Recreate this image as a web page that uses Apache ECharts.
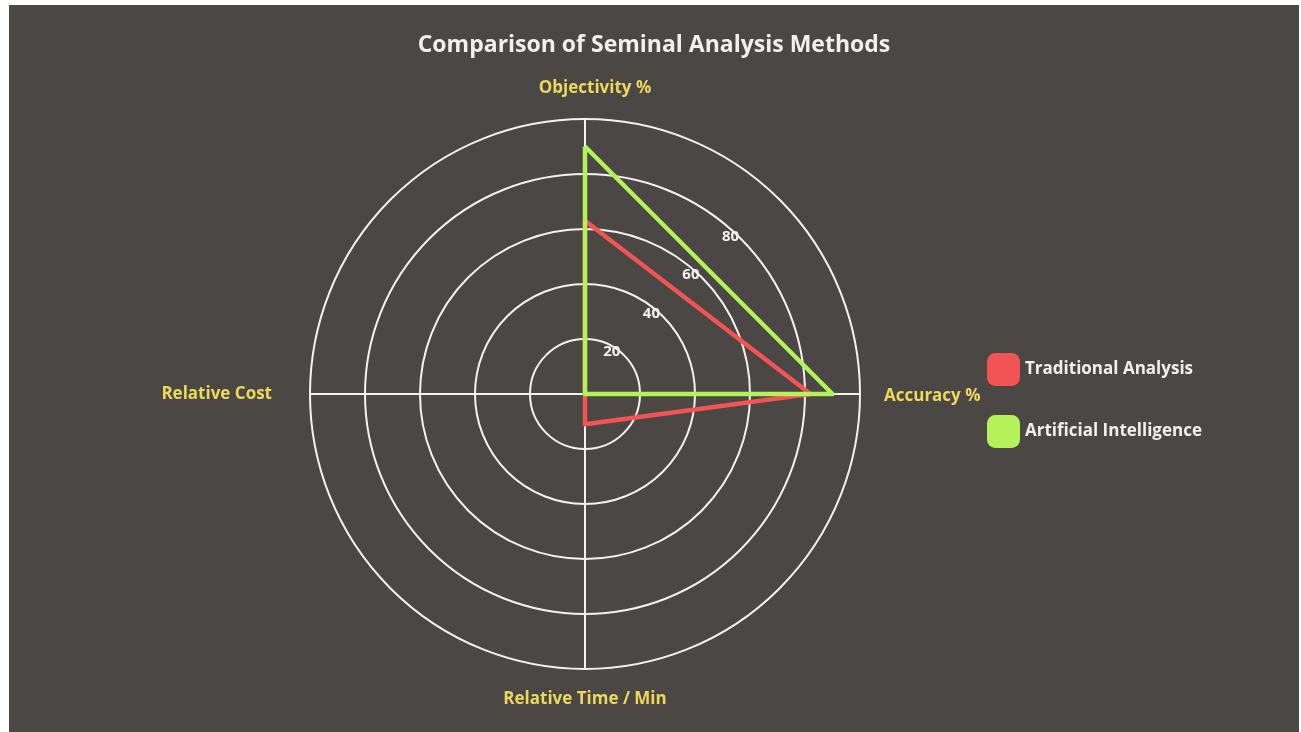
<!DOCTYPE html>
<html>
<head>
<meta charset="utf-8">
<script src="https://cdn.jsdelivr.net/npm/echarts@6/dist/echarts.min.js"></script>
<style>
  html, body { margin: 0; padding: 0; background: #ffffff; }
  #chart { position: absolute; left: 9px; top: 5px; width: 1290px; height: 727px; background: #4a4744; }
</style>
</head>
<body>
<div id="chart"></div>
<script>
// Radar dimensions, counter-clockwise from the top (ECharts lays radar axes out that way)
const indicatorNames = ['Objectivity %', 'Relative Cost', 'Relative Time / Min', 'Accuracy %'];
const axisMax = 100;
const ringTicks = [20, 40, 60, 80];

// Series values, one per indicator in the order above
const seriesNames = ['Traditional Analysis', 'Artificial Intelligence'];
const traditionalValues = [63, 0, 11, 82];
const aiValues = [90, 0, 0, 90];

const seriesColors = ['#f25353', '#b4f25a'];
const nameColor = '#ecd85a';
const font = '"Open Sans", Lato, sans-serif';

const center = [576, 389];
const radius = 275;

// Per-indicator rich style key and padding, to set each name's distance from the outer ring
const nameStyles = {
  'Objectivity %': { key: 'a', padding: [0, 0, 10, 20] },
  'Relative Cost': { key: 'b', padding: [0, 26, 0, 0] },
  'Relative Time / Min': { key: 'c', padding: [10, 0, 0, 0] },
  'Accuracy %': { key: 'd', padding: [4, 0, 0, 12] }
};
const rich = {};
Object.values(nameStyles).forEach(s => {
  rich[s.key] = { color: nameColor, fontFamily: font, fontWeight: 'bold', fontSize: 17, padding: s.padding };
});

const chart = echarts.init(document.getElementById('chart'));
chart.setOption({
  backgroundColor: '#4a4744',
  animation: false,
  title: {
    text: 'Comparison of Seminal Analysis Methods',
    left: 'center',
    top: 24,
    textStyle: { color: '#f1f0ee', fontFamily: font, fontWeight: 'bold', fontSize: 23 }
  },
  legend: {
    orient: 'vertical',
    left: 973,
    top: 343,
    itemWidth: 33,
    itemHeight: 33,
    itemGap: 29,
    icon: 'roundRect',
    data: seriesNames,
    textStyle: { color: '#f1f0ee', fontFamily: font, fontWeight: 'bold', fontSize: 17 }
  },
  radar: {
    center: center,
    radius: radius,
    shape: 'circle',
    startAngle: 90,
    splitNumber: 5,
    indicator: indicatorNames.map(n => ({ name: n, min: 0, max: axisMax })),
    nameGap: 12,
    axisName: {
      formatter: (name) => '{' + nameStyles[name].key + '|' + name + '}',
      color: nameColor,
      fontFamily: font,
      fontWeight: 'bold',
      fontSize: 17,
      rich: rich
    },
    axisLine: { lineStyle: { color: '#f4f2ee', width: 2 } },
    splitLine: { lineStyle: { color: '#f4f2ee', width: 2 } },
    splitArea: { show: false },
    axisLabel: { show: false }
  },
  // Hidden polar frame sharing the radar's centre, used only for the diagonal ring labels
  polar: { center: center, radius: radius },
  angleAxis: {
    type: 'value', min: 0, max: 360, startAngle: 44,
    show: false
  },
  radiusAxis: {
    type: 'value', min: 0, max: axisMax, interval: 20,
    axisLine: { show: false },
    axisTick: { show: false },
    splitLine: { show: false },
    axisLabel: {
      color: '#f4f2ee',
      fontFamily: font,
      fontWeight: 'bold',
      fontSize: 15,
      margin: 6,
      formatter: (v) => ringTicks.includes(v) ? String(v) : ''
    }
  },
  series: [{
    type: 'radar',
    symbol: 'none',
    data: [
      { name: seriesNames[0], value: traditionalValues,
        itemStyle: { color: seriesColors[0] },
        lineStyle: { color: seriesColors[0], width: 4.5 } },
      { name: seriesNames[1], value: aiValues,
        itemStyle: { color: seriesColors[1] },
        lineStyle: { color: seriesColors[1], width: 4.5 } }
    ]
  }]
});
</script>
</body>
</html>
